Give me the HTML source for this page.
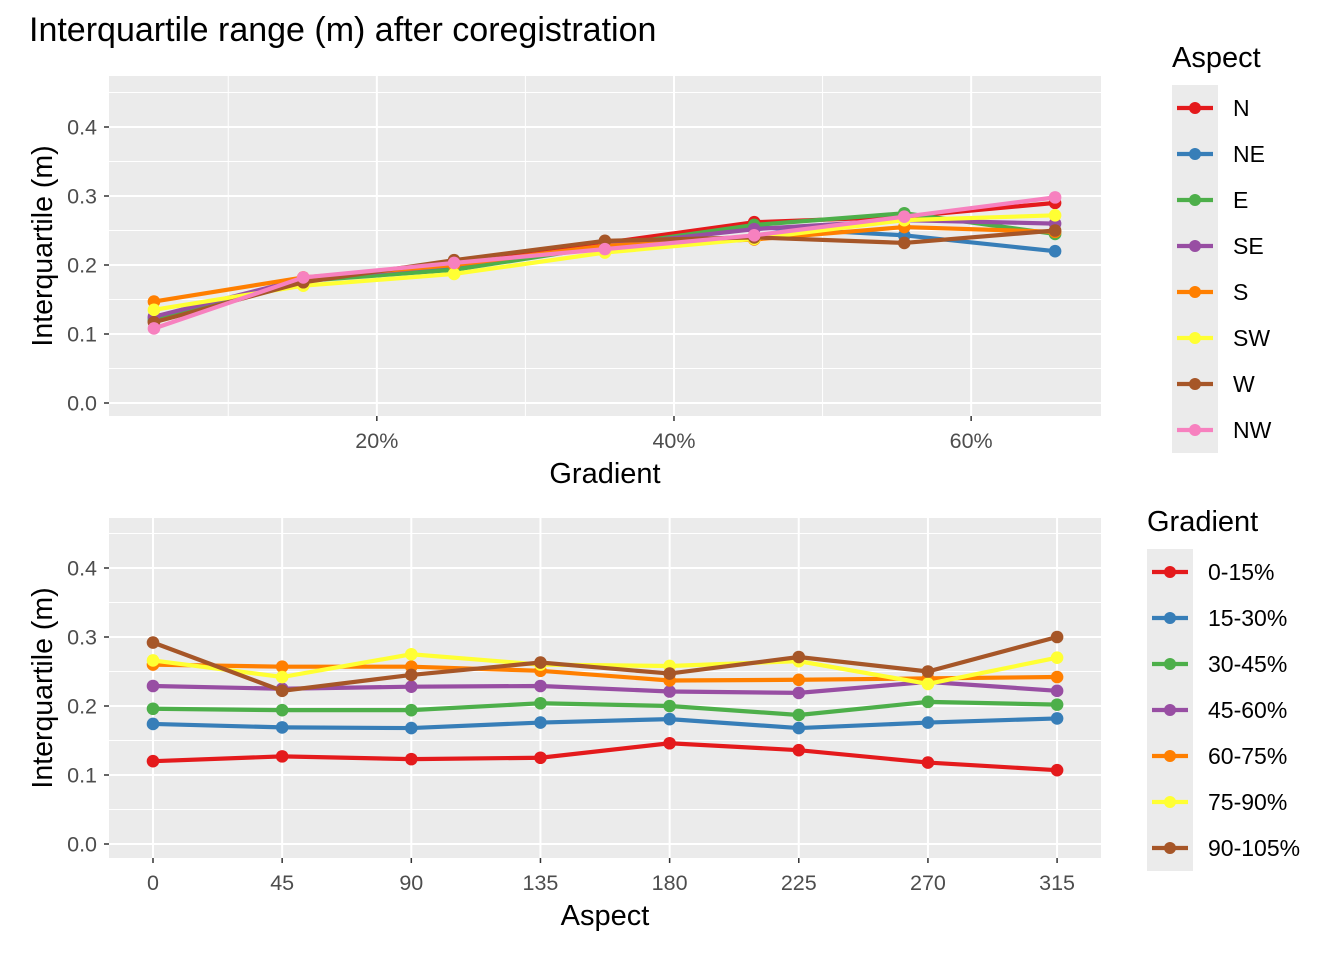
<!DOCTYPE html>
<html><head><meta charset="utf-8"><style>
body{margin:0;background:#fff;}
svg text{font-family:"Liberation Sans",Arial,sans-serif;}
</style></head><body>
<svg id="chart" width="1344" height="960" xmlns="http://www.w3.org/2000/svg">
<text x="29" y="41" font-size="34" fill="#000">Interquartile range (m) after coregistration</text>
</svg>
<script>
const colors=["#E41A1C","#377EB8","#4DAF4A","#984EA3","#FF7F00","#FFFF33","#A65628","#F781BF"];
const aspectNames=["N","NE","E","SE","S","SW","W","NW"];
const gradientX=[5,15.05,25.2,35.35,45.4,55.5,65.65];
const topN=[0.118,0.178,0.200,0.232,0.262,0.270,0.290];
const topNE=[0.123,0.178,0.197,0.228,0.255,0.243,0.220];
const topE=[0.120,0.177,0.193,0.227,0.258,0.275,0.245];
const topSE=[0.125,0.180,0.200,0.228,0.252,0.265,0.260];
const topS=[0.147,0.182,0.200,0.228,0.237,0.255,0.248];
const topSW=[0.135,0.170,0.187,0.218,0.238,0.265,0.272];
const topW=[0.117,0.175,0.207,0.235,0.240,0.232,0.250];
const topNW=[0.108,0.182,0.203,0.223,0.243,0.270,0.298];
const topSeries=[topN,topNE,topE,topSE,topS,topSW,topW,topNW];
const gradNames=["0-15%","15-30%","30-45%","45-60%","60-75%","75-90%","90-105%"];
const aspectX=[0,45,90,135,180,225,270,315];
const g0=[0.120,0.127,0.123,0.125,0.146,0.136,0.118,0.107];
const g15=[0.174,0.169,0.168,0.176,0.181,0.168,0.176,0.182];
const g30=[0.196,0.194,0.194,0.204,0.200,0.187,0.206,0.202];
const g45=[0.229,0.225,0.228,0.229,0.221,0.219,0.235,0.222];
const g60=[0.260,0.257,0.257,0.251,0.237,0.238,0.240,0.242];
const g75=[0.266,0.242,0.275,0.260,0.258,0.265,0.232,0.270];
const g90=[0.292,0.222,0.245,0.263,0.247,0.271,0.250,0.300];
const botSeries=[g0,g15,g30,g45,g60,g75,g90];
const yTicks=[0,0.1,0.2,0.3,0.4];
const yTickLabels=["0.0","0.1","0.2","0.3","0.4"];
const topXTicks=[20,40,60];
const topXMinor=[10,30,50];
const topXLabels=["20%","40%","60%"];
const botXLabels=["0","45","90","135","180","225","270","315"];

const svg=document.getElementById('chart');
const NS="http://www.w3.org/2000/svg";
function mk(tag,attrs,parent){const e=document.createElementNS(NS,tag);for(const k in attrs)e.setAttribute(k,attrs[k]);(parent||svg).appendChild(e);return e;}

function panel(o){
  const g=mk('g',{});
  
  
  const X=v=>o.x0+(v-o.dmin)*(o.x1-o.x0)/(o.dmax-o.dmin);
  const Y=v=>o.yz-v*690;
  const bg=mk('rect',{x:o.x0,y:o.top,width:o.x1-o.x0,height:o.bot-o.top,fill:"#EBEBEB"},g);
  
  
  [0.05,0.15,0.25,0.35,0.45].forEach(v=>mk('line',{x1:o.x0,x2:o.x1,y1:Y(v),y2:Y(v),stroke:"#fff","stroke-width":1},g));
  o.xMinor.forEach(v=>mk('line',{x1:X(v),x2:X(v),y1:o.top,y2:o.bot,stroke:"#fff","stroke-width":1},g));
  yTicks.forEach((v,i)=>{
    mk('line',{x1:o.x0,x2:o.x1,y1:Y(v),y2:Y(v),stroke:"#fff","stroke-width":2},g);
    mk('line',{x1:o.x0-5,x2:o.x0,y1:Y(v),y2:Y(v),stroke:"#333","stroke-width":1.5},g);
    const t=mk('text',{x:o.x0-12,y:Y(v)+7.5,"text-anchor":"end","font-size":21.5,fill:"#4D4D4D"},g);
    t.textContent=yTickLabels[i];
    
    
  });
  o.xTicks.forEach((v,i)=>{
    mk('line',{x1:X(v),x2:X(v),y1:o.top,y2:o.bot,stroke:"#fff","stroke-width":2},g);
    mk('line',{x1:X(v),x2:X(v),y1:o.bot,y2:o.bot+5,stroke:"#333","stroke-width":1.5},g);
    const t=mk('text',{x:X(v),y:o.bot+32,"text-anchor":"middle","font-size":21.5,fill:"#4D4D4D"},g);
    t.textContent=o.xLabels[i];
    
    
  });
  o.series.forEach((s,si)=>{
    const sg=mk('g',{},g);
    
    
    mk('polyline',{points:s.map((v,i)=>X(o.xs[i])+","+Y(v)).join(" "),fill:"none",stroke:colors[si],"stroke-width":4.2},sg);
    s.forEach((v,i)=>{const c=mk('circle',{cx:X(o.xs[i]),cy:Y(v),r:6.3,fill:colors[si]},sg);
      
      });
  });
  const xt=mk('text',{x:(o.x0+o.x1)/2,y:o.bot+67,"text-anchor":"middle","font-size":29,fill:"#000"},g);
  xt.textContent=o.xTitle;
  
  
  const yt=mk('text',{x:0,y:0,transform:`translate(52,${(o.top+o.bot)/2}) rotate(-90)`,"text-anchor":"middle","font-size":28.5,fill:"#000"},g);
  yt.textContent="Interquartile (m)";
  
  
  const lg=mk('g',{},g);
  
  
  const lt=mk('text',{x:o.lx,y:o.ly,"font-size":29,fill:"#000"},lg);
  lt.textContent=o.legTitle;
  
  
  const n=o.names.length;
  mk('rect',{x:o.lx,y:o.ly+18,width:46,height:n*46,fill:"#EBEBEB"},lg);
  o.names.forEach((nm,i)=>{
    const cy=o.ly+18+23+i*46;
    const e=mk('g',{},lg);
    
    
    mk('line',{x1:o.lx+5,x2:o.lx+41,y1:cy,y2:cy,stroke:colors[i],"stroke-width":4.2},e);
    mk('circle',{cx:o.lx+23,cy:cy,r:6,fill:colors[i]},e);
    const t=mk('text',{x:o.lx+61,y:cy+8,"font-size":23,fill:"#000"},e);
    t.textContent=nm;
  });
}
panel({name:'top-panel',x0:109,x1:1101,top:76,bot:416,yz:403,dmin:1.975,dmax:68.74,
  xs:gradientX,series:topSeries,names:aspectNames,xTicks:topXTicks,xMinor:topXMinor,xLabels:topXLabels,
  xTitle:"Gradient",legTitle:"Aspect",lx:1172,ly:67});
panel({name:'bottom-panel',x0:109,x1:1101,top:518,bot:858,yz:844,dmin:-15.33,dmax:330.3,
  xs:aspectX,series:botSeries,names:gradNames,xTicks:aspectX,xMinor:[],xLabels:botXLabels,
  xTitle:"Aspect",legTitle:"Gradient",lx:1147,ly:531});
</script>
</body></html>
